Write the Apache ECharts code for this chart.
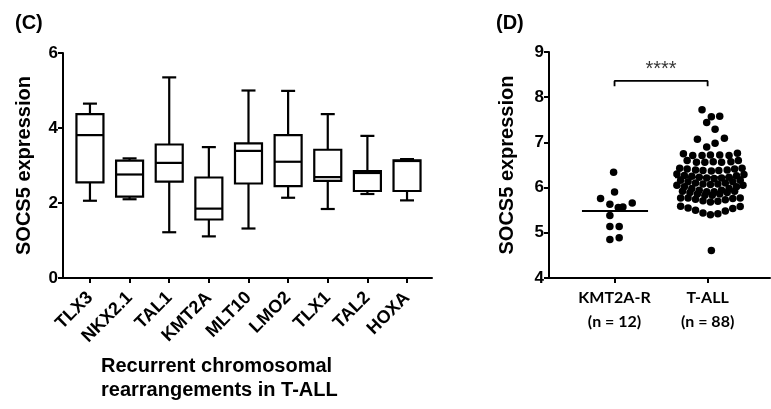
<!DOCTYPE html>
<html>
<head>
<meta charset="utf-8">
<script src="https://cdn.jsdelivr.net/npm/echarts@6/dist/echarts.min.js"></script>
<style>
  html, body { margin: 0; padding: 0; background: #fff; }
  #chart { width: 771px; height: 409px; }
</style>
</head>
<body>
<div id="chart"></div>
<script>
// ---------- Panel C: box plots ----------
const categoriesC = ['TLX3', 'NKX2.1', 'TAL1', 'KMT2A', 'MLT10', 'LMO2', 'TLX1', 'TAL2', 'HOXA'];
const boxMin = [2.06, 2.10, 1.22, 1.11, 1.32, 2.14, 1.84, 2.24, 2.07];
const boxQ1  = [2.55, 2.17, 2.57, 1.56, 2.52, 2.45, 2.59, 2.32, 2.32];
const boxMed = [3.81, 2.76, 3.07, 1.85, 3.39, 3.10, 2.69, 2.80, 3.12];
const boxQ3  = [4.37, 3.13, 3.56, 2.68, 3.59, 3.81, 3.42, 2.85, 3.14];
const boxMax = [4.65, 3.19, 5.35, 3.49, 5.00, 4.99, 4.37, 3.79, 3.17];
const xTitleC = 'Recurrent chromosomal\nrearrangements in T-ALL';

// ---------- Panel D: dot plot ----------
const categoriesD = ['KMT2A-R', 'T-ALL'];
const groupSizes = [12, 88];
const medianD = [5.48, 6.23];
const kmtOffsets = [-0.01, 0.00, -0.15, -0.05, 0.04, 0.09, 0.19, -0.05, -0.05, 0.05, -0.05, 0.05];
const kmtValues  = [6.34, 5.90, 5.76, 5.63, 5.56, 5.57, 5.66, 5.38, 5.14, 5.14, 4.85, 4.89];
const tallOffsets = [
  -0.06, 0.04, 0.13, -0.01, 0.08, -0.11, 0.18, -0.01, 0.08,
  -0.26, -0.16, -0.06, 0.03, 0.13, 0.23, 0.32,
  -0.22, -0.12, -0.03, 0.06, 0.15, 0.25, 0.33,
  -0.30, -0.22, -0.13, -0.05, 0.04, 0.12, 0.21, 0.29, 0.37,
  -0.33, -0.25, -0.17, -0.09, -0.01, 0.07, 0.15, 0.23, 0.31, 0.39,
  -0.29, -0.21, -0.13, -0.05, 0.03, 0.11, 0.19, 0.27, 0.35,
  -0.33, -0.25, -0.17, -0.09, -0.01, 0.07, 0.15, 0.23, 0.31, 0.38,
  -0.27, -0.19, -0.11, -0.03, 0.05, 0.13, 0.21, 0.29,
  -0.29, -0.21, -0.13, -0.05, 0.03, 0.11, 0.19, 0.27, 0.35,
  -0.29, -0.21, -0.13, -0.05, 0.03, 0.11, 0.19, 0.27, 0.35,
  0.04
];
const tallValues = [
  7.72, 7.57, 7.58, 7.44, 7.29, 7.07, 7.09, 6.90, 6.98,
  6.75, 6.71, 6.71, 6.72, 6.72, 6.71, 6.76,
  6.60, 6.56, 6.56, 6.57, 6.56, 6.57, 6.60,
  6.43, 6.41, 6.39, 6.38, 6.37, 6.38, 6.39, 6.41, 6.43,
  6.30, 6.27, 6.25, 6.23, 6.21, 6.20, 6.21, 6.23, 6.26, 6.29,
  6.16, 6.13, 6.10, 6.08, 6.07, 6.08, 6.10, 6.13, 6.16,
  6.05, 6.02, 5.98, 5.94, 5.91, 5.91, 5.94, 5.98, 6.02, 6.05,
  5.92, 5.89, 5.86, 5.83, 5.83, 5.86, 5.89, 5.92,
  5.77, 5.77, 5.74, 5.71, 5.68, 5.70, 5.73, 5.76, 5.77,
  5.59, 5.55, 5.50, 5.44, 5.40, 5.42, 5.48, 5.54, 5.58,
  4.61
];
const sigBracket = { from: 0, to: 1, y: 8.36, drop: 0.12, label: '****' };

// ---------- build ----------
const FONT = 'Liberation Sans';
const boxData = categoriesC.map((c, i) => [i, boxMin[i], boxQ1[i], boxMed[i], boxQ3[i], boxMax[i]]);
const kmtData = kmtValues.map((v, i) => [0 + kmtOffsets[i], v]);
const tallData = tallValues.map((v, i) => [1 + tallOffsets[i], v]);

function renderBox(params, api) {
  const x = api.value(0);
  const pMin = api.coord([x, api.value(1)]);
  const pQ1 = api.coord([x, api.value(2)]);
  const pMed = api.coord([x, api.value(3)]);
  const pQ3 = api.coord([x, api.value(4)]);
  const pMax = api.coord([x, api.value(5)]);
  const hw = 13.5, cw = 7;
  const cx = pMed[0];
  const st = { stroke: '#000', lineWidth: 2.2, fill: null };
  return {
    type: 'group',
    children: [
      { type: 'line', shape: { x1: cx, y1: pMax[1], x2: cx, y2: pQ3[1] }, style: st },
      { type: 'line', shape: { x1: cx, y1: pQ1[1], x2: cx, y2: pMin[1] }, style: st },
      { type: 'line', shape: { x1: cx - cw, y1: pMax[1], x2: cx + cw, y2: pMax[1] }, style: st },
      { type: 'line', shape: { x1: cx - cw, y1: pMin[1], x2: cx + cw, y2: pMin[1] }, style: st },
      { type: 'rect', shape: { x: cx - hw, y: pQ3[1], width: 2 * hw, height: pQ1[1] - pQ3[1] },
        style: { stroke: '#000', lineWidth: 2.2, fill: '#fff' } },
      { type: 'line', shape: { x1: cx - hw, y1: pMed[1], x2: cx + hw, y2: pMed[1] }, style: st }
    ]
  };
}

const medianLines = medianD.map((m, i) => ({
  type: 'line', xAxisIndex: 1, yAxisIndex: 1, symbol: 'none', silent: true, z: 1,
  lineStyle: { color: '#000', width: 2 },
  data: [[i - 0.35, m], [i + 0.36, m]]
}));

const axisTextC = { fontFamily: FONT, fontWeight: 'bold', color: '#000' };

const option = {
  backgroundColor: '#fff',
  animation: false,
  title: [
    { text: '(C)', left: 10, top: 8, textStyle: { fontFamily: FONT, fontWeight: 'bold', fontSize: 20, color: '#000' } },
    { text: '(D)', left: 491, top: 8, textStyle: { fontFamily: FONT, fontWeight: 'bold', fontSize: 20, color: '#000' } },
    { text: xTitleC, left: 96, top: 349, textStyle: { fontFamily: FONT, fontWeight: 'bold', fontSize: 20, color: '#000', lineHeight: 24 } }
  ],
  grid: [
    { left: 63, right: 339, top: 53, bottom: 131, outerBoundsMode: 'none', containLabel: false },
    { left: 549, right: 1, top: 52, bottom: 131, outerBoundsMode: 'none', containLabel: false }
  ],
  xAxis: [
    {
      type: 'value', gridIndex: 0, min: -0.68, max: 8.63,
      splitLine: { show: false },
      axisLine: { show: true, onZero: false, lineStyle: { color: '#000', width: 2 } },
      axisTick: { show: true, customValues: categoriesC.map((c, i) => i), length: 5, lineStyle: { color: '#000', width: 2 } },
      axisLabel: {
        customValues: categoriesC.map((c, i) => i),
        formatter: v => categoriesC[Math.round(v)],
        rotate: 45, margin: 17, fontSize: 18, ...axisTextC
      }
    },
    {
      type: 'value', gridIndex: 1, min: -0.704, max: 1.67,
      splitLine: { show: false },
      axisLine: { show: true, onZero: false, lineStyle: { color: '#000', width: 2 } },
      axisTick: { show: true, customValues: [0, 1], length: 5, lineStyle: { color: '#000', width: 2 } },
      axisLabel: {
        customValues: [0, 1],
        formatter: v => '{a|' + categoriesD[Math.round(v)] + '}\n{a|(n = ' + groupSizes[Math.round(v)] + ')}',
        margin: 8,
        rich: { a: { fontFamily: 'Lato', fontWeight: 'bold', fontSize: 16, color: '#000', lineHeight: 24 } }
      }
    }
  ],
  yAxis: [
    {
      type: 'value', gridIndex: 0, min: 0, max: 6, interval: 2,
      splitLine: { show: false },
      axisLine: { show: true, onZero: false, lineStyle: { color: '#000', width: 2 } },
      axisTick: { show: true, length: 5, lineStyle: { color: '#000', width: 2 } },
      axisLabel: { fontSize: 17, margin: 5, ...axisTextC },
      name: 'SOCS5 expression', nameLocation: 'middle', nameGap: 29,
      nameTextStyle: { fontFamily: FONT, fontWeight: 'bold', fontSize: 20, color: '#000' }
    },
    {
      type: 'value', gridIndex: 1, min: 4, max: 9, interval: 1,
      splitLine: { show: false },
      axisLine: { show: true, onZero: false, lineStyle: { color: '#000', width: 2 } },
      axisTick: { show: true, length: 5, lineStyle: { color: '#000', width: 2 } },
      axisLabel: { fontSize: 17, margin: 5, ...axisTextC },
      name: 'SOCS5 expression', nameLocation: 'middle', nameGap: 32,
      nameTextStyle: { fontFamily: FONT, fontWeight: 'bold', fontSize: 20, color: '#000' }
    }
  ],
  series: [
    {
      type: 'custom', xAxisIndex: 0, yAxisIndex: 0, renderItem: renderBox,
      encode: { x: 0, y: [1, 2, 3, 4, 5] },
      data: boxData, silent: true
    },
    {
      type: 'scatter', xAxisIndex: 1, yAxisIndex: 1, symbolSize: 7.5, z: 3,
      itemStyle: { color: '#000', opacity: 1 }, data: kmtData, silent: true
    },
    {
      type: 'scatter', xAxisIndex: 1, yAxisIndex: 1, symbolSize: 7.5, z: 3,
      itemStyle: { color: '#000', opacity: 1 }, data: tallData, silent: true
    },
    ...medianLines,
    {
      type: 'line', xAxisIndex: 1, yAxisIndex: 1, symbol: 'none', silent: true,
      lineStyle: { color: '#000', width: 1.8 },
      data: [
        [sigBracket.from, sigBracket.y - sigBracket.drop],
        [sigBracket.from, sigBracket.y],
        [sigBracket.to, sigBracket.y],
        [sigBracket.to, sigBracket.y - sigBracket.drop]
      ]
    },
    {
      type: 'scatter', xAxisIndex: 1, yAxisIndex: 1, symbolSize: 0, silent: true,
      data: [[(sigBracket.from + sigBracket.to) / 2, sigBracket.y]],
      label: { show: true, position: 'top', distance: 1, formatter: sigBracket.label,
        fontFamily: FONT, fontSize: 20, color: '#000', fontWeight: 'normal' }
    }
  ]
};

const chart = echarts.init(document.getElementById('chart'), null, { renderer: 'canvas' });
chart.setOption(option);
</script>
</body>
</html>
